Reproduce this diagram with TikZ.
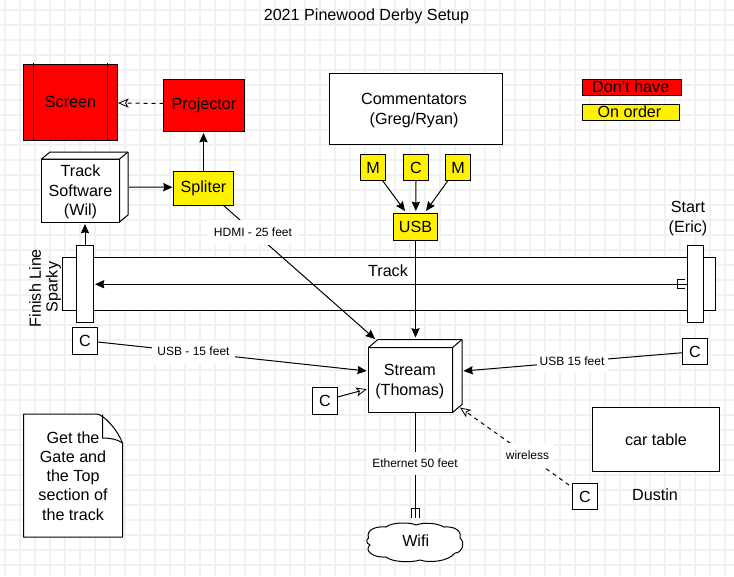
\documentclass[tikz,border=0pt]{standalone}
\usepackage{fontspec}
\setmainfont{Liberation Sans}
\usetikzlibrary{arrows.meta,calc}
\definecolor{gridc}{HTML}{F1F1F1}
\tikzset{
  px/.style={line width=0.75pt,draw=black},
  boxn/.style={px,rectangle,inner sep=0pt,outer sep=0pt,align=center,
    font=\fontsize{12.1}{14.4}\selectfont},
  txt/.style={inner sep=0pt,outer sep=0pt,align=center,font=\fontsize{12.1}{14.4}\selectfont},
  red box/.style={boxn,fill=red},
  yel box/.style={boxn,fill=yellow},
  wht box/.style={boxn,fill=white},
  lab/.style={fill=white,inner sep=0pt,outer sep=0pt,font=\fontsize{9}{11}\selectfont},
  conn/.style={px,-{Stealth[length=7pt,width=6.2pt,inset=0.8pt]}},
  openc/.style={px,-{Stealth[open,fill=white,length=8pt,width=6.8pt,inset=2pt,line width=0.6pt]}},
  dashc/.style={openc,dash pattern=on 3pt off 3pt},
}
\newcommand{\bx}[7][wht box]{%
  \node[#1,minimum width={(#5-#3)*0.75pt},minimum height={(#6-#4)*0.75pt}] (#2)
    at ({(#3+#5)/2},{(#4+#6)/2}) {#7};}
\newcommand{\cube}[3]{%
  \draw[px,fill=white,line join=round] (#1.north west) -- ++(#2,-#3) -- ($(#1.north east)+(#2,-#3)$)
    -- ($(#1.south east)+(#2,-#3)$) -- (#1.south east) -- (#1.north east) -- cycle;
  \draw[px] (#1.north east) -- ++(#2,-#3);}
\begin{document}
\begin{tikzpicture}[x=0.75pt,y=-0.75pt]
\useasboundingbox (0,0) rectangle (734,576);
\fill[white] (0,0) rectangle (734,576);
\foreach \gx in {5,20,...,725} \draw[gridc,line width=1pt] (\gx,0) -- (\gx,576);
\foreach \gy in {10,25,...,570} \draw[gridc,line width=1pt] (0,\gy) -- (734,\gy);

\node[txt] (title) at (366.5,16) {2021 Pinewood Derby Setup};

% top-left equipment
\bx[red box]{screen}{23.5}{64}{117.5}{140}{Screen}
\draw[px] (33.5,63) -- (33.5,140) (107.5,63) -- (107.5,140);
\bx[red box]{proj}{163.5}{79}{244.5}{131}{Projector}
\bx{ts}{41.5}{159}{119.5}{222}{}
\cube{ts}{8.5}{7}
\node[txt] (tstext) at ($(ts.center)+(0,1.5)$) {Track\\Software\\(Wil)};
\bx[yel box]{spliter}{173.5}{171.5}{233.5}{205}{Spliter}

% commentators
\bx{comm}{329.5}{73.5}{502.5}{144.5}{}
\node[txt] (commtext) at ($(comm.center)+(-2,1.5)$) {Commentators\\(Greg/Ryan)};
\bx[yel box]{m1}{360.5}{154.5}{385.5}{180.5}{M}
\bx[yel box]{c0}{403.5}{154.5}{428.5}{180.5}{C}
\bx[yel box]{m2}{445.5}{154.5}{470.5}{180.5}{M}
\bx[yel box]{usb}{393.5}{213.5}{437.5}{240.5}{USB}

% legend
\bx[red box]{leg1}{582.5}{79.5}{681.5}{95.5}{}
\node[txt] (leg1t) at ($(leg1.center)+(-1.3,-1.2)$) {Don't have};
\bx[yel box]{leg2}{582.5}{104.5}{679.5}{120.5}{}
\node[txt] (leg2t) at ($(leg2.center)+(-1.5,-1.2)$) {On order};

% track
\bx{track}{62.5}{257.5}{715.5}{310.5}{}
\node[txt] (tracktext) at (388,271) {Track};
\bx{finish}{76.5}{245}{93.5}{322.5}{}
\bx{start}{687.5}{245}{703.5}{322.5}{}
\node[txt] (starttext) at (688,218.5) {Start\\(Eric)};
\node[txt,rotate=90] (fl) at (35,288) {Finish Line};
\node[txt,rotate=90] (sp) at (53.5,287) {Sparky};

% cameras
\bx{cl}{72.5}{327}{97.5}{354.5}{C}
\bx{cr}{682.5}{338.5}{707.5}{364.5}{C}
\bx{cs}{312.5}{387.5}{337.5}{414.5}{C}
\bx{cw}{572.5}{483.5}{597.5}{509.5}{C}

% stream
\bx{stream}{368.5}{347.5}{452.5}{412.5}{}
\cube{stream}{9.5}{8}
\node[txt] (streamtext) at ($(stream.center)+(-0.7,1.5)$) {Stream\\(Thomas)};

% car table
\bx{cart}{592.5}{407.5}{719.5}{471.5}{car table}
\node[txt] (dustin) at (655,495) {Dustin};

% note
\node[txt,minimum width=74.25pt,minimum height=92.25pt] (note) at (73,475.5) {};
\draw[px,fill=white,line join=round] (note.north west) -- ++(73.5,0)
  .. controls ($(note.north east)+(-19,1)$) and ($(note.north east)+(-6,14)$) .. ($(note.north east)+(0,29)$)
  -- (note.south east) -- (note.south west) -- cycle;
\draw[px] ($(note.north west)+(79,0.5)$) -- ($(note.north west)+(79,24)$)
  .. controls ($(note.north east)+(-14,24)$) and ($(note.north east)+(-5,25)$) .. ($(note.north east)+(0,29)$);
\node[txt,align=center] (notetext) at ($(note.center)+(0,0.5)$) {Get the\\Gate and\\the Top\\section of\\the track};

% cloud
\node[txt,minimum width=72pt,minimum height=29pt] (wifi) at (415.7,541) {};
\draw[px,fill=white] (368.5,538) .. controls (366,530) and (375,526) .. (386,527)
  .. controls (392,522) and (410,522) .. (416,525)
  .. controls (424,522) and (437,523) .. (444,527)
  .. controls (456,526) and (462,532) .. (460,538)
  .. controls (466,543) and (462,553) .. (455,553)
  .. controls (448,562) and (428,563) .. (420,560)
  .. controls (410,563) and (392,562) .. (386,557)
  .. controls (372,558) and (364,550) .. (370,545)
  .. controls (366,543) and (366,540) .. (368.5,538) -- cycle;
\node[txt] (wifitext) at (wifi.center) {Wifi};

% connectors
\draw[dashc] ($(proj.west)+(0,-1.5)$) -- ($(screen.east)+(0.5,1)$);
\draw[conn] (spliter.north) -- ($(proj.south)+(-0.5,2)$);
\draw[conn] ($(ts.east)+(9.5,-3.5)$) -- ($(spliter.west)+(-1,-1)$);
\draw[conn] (finish.north) -- ($(ts.south)+(4.5,2)$);
\draw[conn] ($(m1.south east)+(-3,0)$) -- ($(usb.north west)+(11.5,-2.5)$);
\draw[conn] (c0.south) -- ($(usb.north)+(0.3,-2.5)$);
\draw[conn] ($(m2.south west)+(2.5,0)$) -- ($(usb.north east)+(-11.5,-2.5)$);
\draw[conn] (usb.south) -- ($(stream.north)+(5,-10)$);
\draw[conn] ($(spliter.south east)+(-10.5,0)$) -- ($(stream.north west)+(6.5,-8.5)$);
\draw[conn] ($(start.west)+(0,0.5)$) -- ($(finish.east)+(1.5,0.5)$);
\draw[px] ($(start.west)+(-3,-4)$) -- ++(-7.5,0) -- ++(0,8.5) -- ++(7.5,0);
\draw[conn] ($(cl.east)+(0,1.2)$) -- ($(stream.west)+(-1.8,-9)$);
\draw[conn] ($(cr.west)+(0,1.2)$) -- ($(stream.east)+(11,-9)$);
\draw[openc] ($(cs.east)+(0,-4)$) -- ($(stream.west)+(-1.8,9.2)$);
\draw[dashc] ($(cw.north west)+(-3.5,1.5)$) -- ($(stream.south east)+(7.5,-5)$);
\draw[px] ($(stream.south)+(5.2,0)$) -- ($(wifi.north)+(0,-4)$);
\draw[px] ($(wifi.north)+(-4,-4)$) -- ++(0,-9) -- ++(8,0) -- ++(0,9);

% connector labels
\node[lab,minimum width=67.5pt,minimum height=18.75pt] (lhdmi) at (253,232.5) {HDMI - 25 feet};
\node[lab,minimum width=62.25pt,minimum height=16.5pt] (lusb) at (193.5,351.5) {USB - 15 feet};
\node[lab,minimum width=53.25pt,minimum height=16.5pt] (lusb2) at (572,361.5) {USB 15 feet};
\node[lab,minimum width=39.75pt,minimum height=18pt] (lwire) at (527.5,455) {wireless};
\node[lab,minimum width=72pt,minimum height=17.25pt] (leth) at (415,463) {Ethernet 50 feet};
\end{tikzpicture}
\end{document}
